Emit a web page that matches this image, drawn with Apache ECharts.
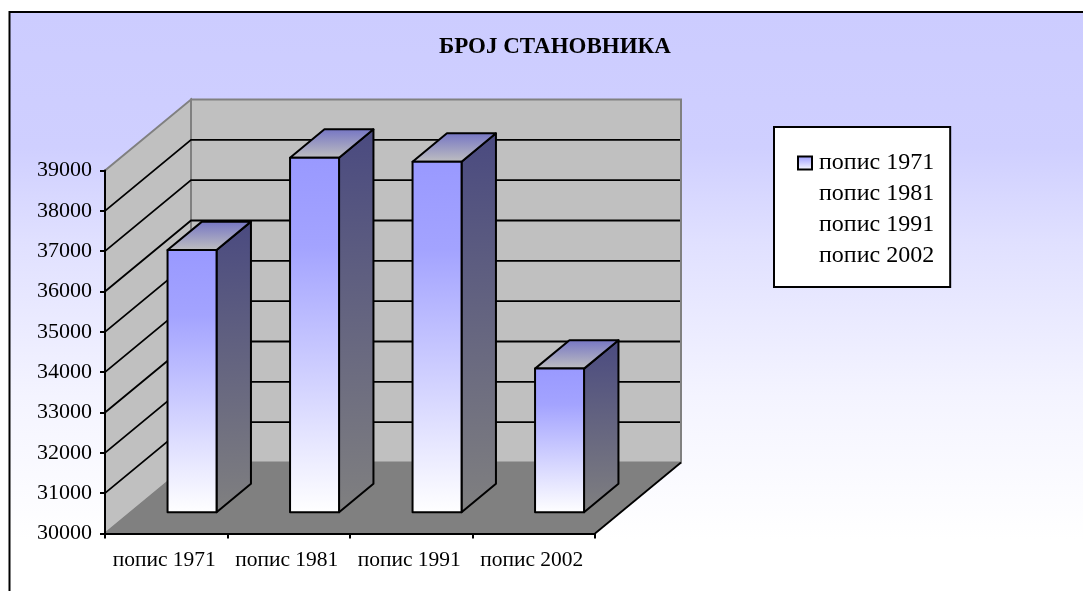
<!DOCTYPE html>
<html>
<head>
<meta charset="utf-8">
<style>
  html, body { margin: 0; padding: 0; background: #fff; }
  #chart { width: 1083px; height: 591px; }
</style>
<script src="https://cdn.jsdelivr.net/npm/echarts@6/dist/echarts.min.js"></script>
</head>
<body>
<div id="chart"></div>
<script>
  // подаци
  var categories = ['попис 1971', 'попис 1981', 'попис 1991', 'попис 2002'];
  var populationValues = [36500, 38790, 38690, 33560];
  var yTicks = [30000, 31000, 32000, 33000, 34000, 35000, 36000, 37000, 38000, 39000];

  var chartTitle = 'БРОЈ СТАНОВНИКА';
  var fontName = '"Liberation Serif", serif';

  // помак задњег зида у односу на предњу раван
  var depthX = 86;
  var depthY = -71;
  var barFrontAt = 0.3;
  var barDepth = 0.4;

  function vGrad(stops) {
    return new echarts.graphic.LinearGradient(0, 0, 0, 1, stops);
  }

  // зидови, под и хоризонталне линије
  function renderWalls(params, api) {
    var cs = params.coordSys;
    var left = cs.x, right = cs.x + cs.width, top = cs.y, bottom = cs.y + cs.height;
    var children = [
      {
        type: 'polygon',
        shape: {points: [[left, top], [left + depthX, top + depthY], [left + depthX, bottom + depthY], [left, bottom]]},
        style: {fill: '#c0c0c0', stroke: '#808080', lineWidth: 2}
      },
      {
        type: 'rect',
        shape: {x: left + depthX, y: top + depthY, width: cs.width, height: cs.height},
        style: {fill: '#c0c0c0', stroke: '#808080', lineWidth: 2}
      },
      {
        type: 'polygon',
        shape: {points: [[left, bottom], [left + depthX, bottom + depthY], [right + depthX, bottom + depthY], [right, bottom]]},
        style: {fill: '#808080', stroke: '#808080', lineWidth: 1}
      },
      {
        type: 'line',
        shape: {x1: right, y1: bottom, x2: right + depthX, y2: bottom + depthY},
        style: {stroke: '#000', lineWidth: 1.8}
      }
    ];
    yTicks.forEach(function (t) {
      if (t === yTicks[0] || t === yTicks[yTicks.length - 1]) return;
      var y = api.coord([0, t])[1];
      children.push({
        type: 'polyline',
        shape: {points: [[left, y], [left + depthX, y + depthY], [right + depthX - 1, y + depthY]]},
        style: {fill: null, stroke: '#000', lineWidth: 1.8}
      });
    });
    return {type: 'group', children: children};
  }

  // један стубић: предња страна, бок и врх
  function renderBar(params, api) {
    var idx = api.value(0);
    var top = api.coord([idx, api.value(1)]);
    var base = api.coord([idx, yTicks[0]]);
    var w = api.size([1, 0])[0] * 0.4;
    var x0 = top[0] - w / 2 + depthX * barFrontAt;
    var x1 = x0 + w;
    var yTop = top[1] + depthY * barFrontAt;
    var yBase = base[1] + depthY * barFrontAt;
    var dx = depthX * barDepth;
    var dy = depthY * barDepth;
    var edge = {stroke: '#000', lineWidth: 2, lineJoin: 'round'};
    return {
      type: 'group',
      children: [
        {
          type: 'polygon',
          shape: {points: [[x1, yTop], [x1 + dx, yTop + dy], [x1 + dx, yBase + dy], [x1, yBase]]},
          style: Object.assign({fill: vGrad([{offset: 0, color: '#4a4a80'}, {offset: 1, color: '#808080'}])}, edge)
        },
        {
          type: 'polygon',
          shape: {points: [[x0, yTop], [x1, yTop], [x1 + dx, yTop + dy], [x0 + dx, yTop + dy]]},
          style: Object.assign({fill: vGrad([{offset: 0, color: '#7474c4'}, {offset: 1, color: '#c0c0c0'}])}, edge)
        },
        {
          type: 'rect',
          shape: {x: x0, y: yTop, width: w, height: yBase - yTop},
          style: Object.assign({fill: vGrad([{offset: 0, color: '#9999ff'}, {offset: 0.25, color: '#a3a3ff'}, {offset: 1, color: '#ffffff'}])}, edge)
        }
      ]
    };
  }

  var series = [{
    name: 'walls',
    type: 'custom',
    silent: true,
    clip: false,
    renderItem: renderWalls,
    data: [[0, yTicks[0]]]
  }];
  categories.forEach(function (name, i) {
    series.push({
      name: name,
      type: 'custom',
      clip: false,
      renderItem: renderBar,
      encode: {x: 0, y: 1},
      data: [[i, populationValues[i]]]
    });
  });

  var myChart = echarts.init(document.getElementById('chart'));
  myChart.setOption({
    animation: false,
    backgroundColor: '#fff',
    textStyle: {fontFamily: fontName, color: '#000'},
    // позадина и оквир графикона
    graphic: {
      elements: [{
        type: 'rect',
        z: -10,
        silent: true,
        shape: {x: 9.5, y: 12, width: 1100, height: 620},
        style: {
          stroke: '#000',
          lineWidth: 2,
          fill: vGrad([
            {offset: 0, color: '#ccccff'},
            {offset: 0.22, color: '#cfcfff'},
            {offset: 0.37, color: '#e0e0ff'},
            {offset: 0.62, color: '#f4f4ff'},
            {offset: 0.85, color: '#ffffff'},
            {offset: 1, color: '#ffffff'}
          ])
        }
      }]
    },
    title: {
      text: chartTitle,
      left: 439,
      top: 36,
      padding: 0,
      textStyle: {fontFamily: fontName, fontSize: 23, fontWeight: 'bold', color: '#000'}
    },
    legend: {
      orient: 'vertical',
      left: 774,
      top: 127,
      padding: [24, 16, 19, 23],
      itemGap: 7,
      itemWidth: 14,
      itemHeight: 13,
      selectedMode: false,
      backgroundColor: '#fff',
      borderColor: '#000',
      borderWidth: 2,
      textStyle: {fontFamily: fontName, fontSize: 24, color: '#000', padding: [0, 0, 0, 2]},
      data: categories.map(function (name, i) {
        return {
          name: name,
          icon: 'rect',
          itemStyle: i === 0
            ? {color: vGrad([{offset: 0, color: '#9999ff'}, {offset: 1, color: '#ffffff'}]), borderColor: '#000', borderWidth: 2}
            : {color: 'transparent', borderWidth: 0}
        };
      })
    },
    grid: {left: 105, right: 488, top: 170.5, bottom: 57.5, containLabel: false},
    xAxis: {
      type: 'category',
      data: categories,
      z: 5,
      axisLine: {lineStyle: {color: '#000', width: 2}},
      axisTick: {show: true, length: 5, lineStyle: {color: '#000', width: 2}},
      axisLabel: {interval: 0, margin: 16, padding: [0, 4, 0, 0], fontFamily: fontName, fontSize: 21.5, color: '#000'},
      splitLine: {show: false}
    },
    yAxis: {
      type: 'value',
      min: yTicks[0],
      max: yTicks[yTicks.length - 1],
      interval: 1000,
      z: 5,
      axisLine: {show: true, lineStyle: {color: '#000', width: 2}},
      axisTick: {show: true, length: 5, lineStyle: {color: '#000', width: 2}},
      axisLabel: {
        margin: 13,
        padding: [2, 0, 0, 0],
        fontFamily: fontName,
        fontSize: 22,
        color: '#000',
        formatter: function (v) { return String(v); }
      },
      splitLine: {show: false}
    },
    series: series
  });
</script>
</body>
</html>
